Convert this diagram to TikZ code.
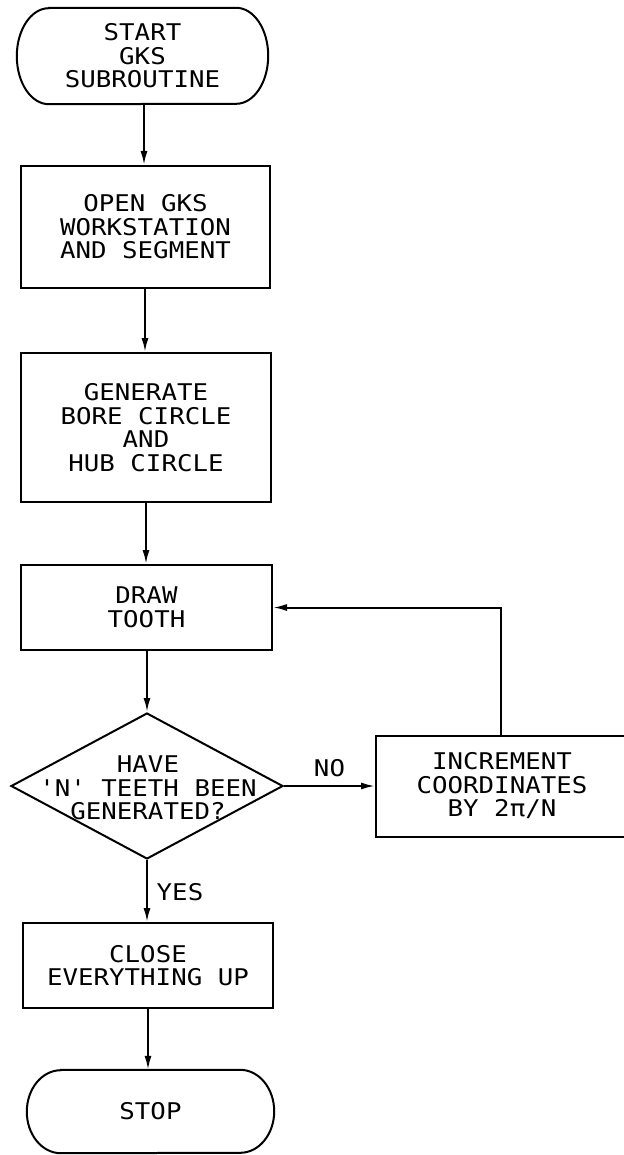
\documentclass[tikz,border=0pt]{standalone}
\usepackage{fontspec}
\newfontfamily\flowfont[FakeStretch=1.12]{DejaVu Sans Mono}
\usetikzlibrary{shapes.geometric,arrows.meta}
\begin{document}
\begin{tikzpicture}[x=1pt,y=1pt,
  every node/.style={font=\flowfont\fontsize{23}{23.5}\selectfont, align=center, inner sep=0pt},
  proc/.style={draw, line width=2pt, rectangle, inner sep=0pt},
  conn/.style={line width=2pt, -{Latex[length=14pt,width=7pt]}},
  plain/.style={line width=2pt}]
\useasboundingbox (0,0) rectangle (623,-1155);
\fill[white] (0,0) rectangle (623,-1155);

% start terminal
\node[minimum width=251pt, minimum height=96pt] (start) at (142.5,-56) {START\\GKS\\SUBROUTINE};
\draw[plain] ([xshift=32pt]start.north west) -- ([xshift=-32pt]start.north east)
  arc[start angle=90,end angle=-90,x radius=32pt,y radius=48pt]
  -- ([xshift=32pt]start.south west)
  arc[start angle=270,end angle=90,x radius=32pt,y radius=48pt] -- cycle;

\node[proc, minimum width=249pt, minimum height=122pt] (open) at (145.5,-227) {OPEN GKS\\WORKSTATION\\AND SEGMENT};
\node[proc, minimum width=250pt, minimum height=149pt] (gen) at (146,-427.5) {GENERATE\\BORE CIRCLE\\AND\\HUB CIRCLE};
\node[proc, minimum width=251pt, minimum height=85pt] (tooth) at (146.5,-607.5) {DRAW\\TOOTH};
\node[draw, diamond, line width=2pt, minimum width=272pt, minimum height=146pt, inner sep=0pt] (dec) at (147,-786) {};
\node (dectext) at (148,-788) {HAVE\\'N' TEETH BEEN\\GENERATED?};
\node[proc, minimum width=250pt, minimum height=101pt] (inc) at (501,-786) {};
\node (inctext) at (502,-786) {INCREMENT\\COORDINATES\\BY 2π/N};
\node[proc, minimum width=250pt, minimum height=85pt] (close) at (148,-965.5) {CLOSE\\EVERYTHING UP};

% stop terminal
\node[minimum width=247pt, minimum height=83pt] (stop) at (150.5,-1111.5) {STOP};
\draw[plain] ([xshift=34pt]stop.north west) -- ([xshift=-34pt]stop.north east)
  arc[start angle=90,end angle=-90,x radius=34pt,y radius=41.5pt]
  -- ([xshift=34pt]stop.south west)
  arc[start angle=270,end angle=90,x radius=34pt,y radius=41.5pt] -- cycle;

% connectors
\draw[conn] (start.south -| 144,0) -- (open.north -| 144,0);
\draw[conn] (open.south -| 145,0) -- (gen.north -| 145,0);
\draw[conn] (gen.south -| 146,0) -- (tooth.north -| 146,0);
\draw[conn] (tooth.south -| 147,0) -- (dec.north);
\draw[conn] (dec.east) -- node[above=8pt] (no) {NO} (inc.west);
\draw[conn] (inc.north) |- (tooth.east);
\draw[conn] (dec.south) -- (dec.south |- close.north);
\node (yes) at (180,-892) {YES};
\draw[conn] (close.south -| 148,0) -- (stop.north -| 148,0);
\end{tikzpicture}
\end{document}
